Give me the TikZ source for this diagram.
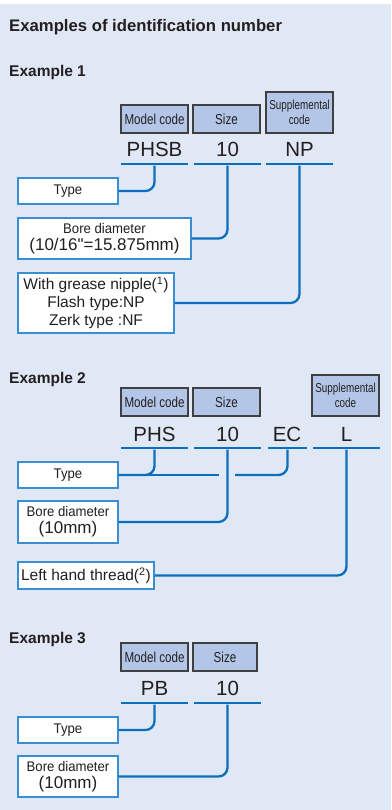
\documentclass[tikz,border=0pt]{standalone}
\usepackage{fontspec}
\setmainfont{Liberation Sans}
\newfontfamily\hdrfont[FakeStretch=0.8]{Liberation Sans}
\newfontfamily\supfont[FakeStretch=0.76]{Liberation Sans}
\newfontfamily\lblfont[FakeStretch=0.94]{Liberation Sans}
\newfontfamily\plainfont{Liberation Sans}
\definecolor{bg}{HTML}{E1E8F5}
\definecolor{hdrfill}{HTML}{B3C6E7}
\definecolor{lineblue}{HTML}{0B6FBE}
\definecolor{boxblue}{HTML}{3A8FD3}
\definecolor{txt}{HTML}{231F20}
\tikzset{
  hdr/.style={draw=black!75, fill=hdrfill, line width=1.1pt, inner sep=0pt,
    minimum width=67pt, minimum height=28pt, text=txt, align=center,
    font=\hdrfont\fontsize{14.5}{14.5}\selectfont},
  hdrtall/.style={hdr, minimum height=41pt, font=\supfont\fontsize{13}{14.5}\selectfont},
  codetxt/.style={anchor=base, inner sep=0pt, text=txt, font=\fontsize{20.5}{22}\selectfont},
  uline/.style={fill=lineblue, inner sep=0pt, minimum height=2.7pt, minimum width=67pt},
  lbl/.style={draw=boxblue, fill=white, line width=1.1pt, inner sep=0pt, text=txt, align=center},
  conn/.style={draw=lineblue, line width=2.3pt, rounded corners=9pt},
  heading/.style={anchor=base west, inner sep=0pt, text=txt, font=\bfseries\fontsize{15.5}{16}\selectfont},
  small/.style={font=\lblfont\fontsize{14}{16}\selectfont},
  boref/.style={font=\fontsize{17}{17}\selectfont}
}
\newcommand{\boretext}[1]{{\lblfont\fontsize{14}{16}\selectfont Bore diameter}\\#1}
\begin{document}
\begin{tikzpicture}[x=1pt,y=-1pt]
\fill[white] (0,0) rectangle (391,810);
\fill[bg] (0,4) rectangle (391,810);
\useasboundingbox (0,0) rectangle (391,810);

\node[heading, font=\bfseries\fontsize{16.7}{17}\selectfont] (title) at (9,32) {Examples of identification number};

% ---------------- Example 1
\node[heading] (ex1) at (9,77) {Example 1};
\node[hdr] (mc1) at (154.5,119) {Model code};
\node[hdr] (sz1) at (226.5,119) {Size};
\node[hdrtall] (sp1) at (299.5,112.5) {Supplemental\\code};
\node[codetxt] (c1a) at (154.5,157) {PHSB};
\node[codetxt] (c1b) at (227.5,157) {10};
\node[codetxt] (c1c) at (299.5,157) {NP};
\node[uline] (u1a) at (154.5,164) {};
\node[uline] (u1b) at (227.5,164) {};
\node[uline] (u1c) at (299.5,164) {};
\node[lbl, small, minimum width=100pt, minimum height=26pt] (type1) at (68,191) {Type};
\node[lbl, boref, minimum width=173pt, minimum height=41pt] (bore1) at (104.5,238.5) {\boretext{(10/16{\plainfont"}=15.875mm)}};
\node[lbl, minimum width=156pt, minimum height=60pt, font=\fontsize{15.5}{18}\selectfont] (grease1) at (96,303)
  {With grease nipple(\textsuperscript{1})\\Flash type:NP\\Zerk type :NF};
\draw[conn] (u1a.south) |- (type1.east);
\draw[conn] (u1b.south) |- (bore1.east);
\draw[conn] (u1c.south) |- (grease1.east);

% ---------------- Example 2
\node[heading] (ex2) at (9,383) {Example 2};
\node[hdr] (mc2) at (154.5,402) {Model code};
\node[hdr] (sz2) at (226.5,402) {Size};
\node[hdrtall] (sp2) at (345.5,395.5) {Supplemental\\code};
\node[codetxt] (c2a) at (154.5,441) {PHS};
\node[codetxt] (c2b) at (227.5,441) {10};
\node[codetxt] (c2c) at (287,441) {EC};
\node[codetxt] (c2d) at (346.5,441) {L};
\node[uline] (u2a) at (154.5,448) {};
\node[uline] (u2b) at (227.5,448) {};
\node[uline, minimum width=39pt] (u2c) at (287.5,448) {};
\node[uline] (u2d) at (346.5,448) {};
\node[lbl, small, minimum width=100pt, minimum height=26pt] (type2) at (68,475) {Type};
\node[lbl, boref, minimum width=100pt, minimum height=42pt] (bore2) at (68,522) {\boretext{(10mm)}};
\node[lbl, minimum width=136pt, minimum height=27pt, font=\fontsize{15.5}{18}\selectfont] (left2) at (86,575.5)
  {Left hand thread(\textsuperscript{2})};
\coordinate (gapL) at (219,475);
\coordinate (gapR) at (235,475);
\draw[conn] (u2a.south) |- (type2.east);
\draw[conn] (type2.east) -- (gapL);
\draw[conn] (u2c.south) |- (gapR);
\draw[conn] (u2b.south) |- (bore2.east);
\draw[conn] (u2d.south) |- (left2.east);

% ---------------- Example 3
\node[heading] (ex3) at (9,643) {Example 3};
\node[hdr] (mc3) at (154.5,657) {Model code};
\node[hdr, minimum width=64pt] (sz3) at (225,657) {Size};
\node[codetxt] (c3a) at (154.5,695) {PB};
\node[codetxt] (c3b) at (227.5,695) {10};
\node[uline] (u3a) at (154.5,703) {};
\node[uline] (u3b) at (227.5,703) {};
\node[lbl, small, minimum width=100pt, minimum height=26pt] (type3) at (68,730) {Type};
\node[lbl, boref, minimum width=100pt, minimum height=41pt] (bore3) at (68,776.5) {\boretext{(10mm)}};
\draw[conn] (u3a.south) |- (type3.east);
\draw[conn] (u3b.south) |- (bore3.east);
\end{tikzpicture}
\end{document}
